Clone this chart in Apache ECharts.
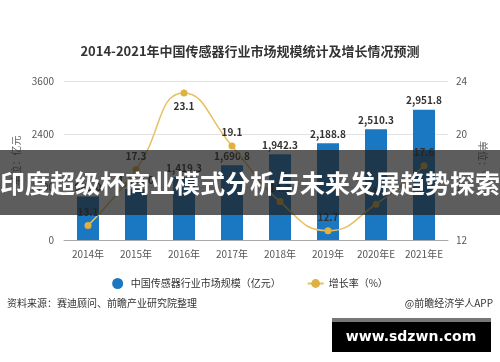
<!DOCTYPE html>
<html><head><meta charset="utf-8">
<script src="https://cdn.jsdelivr.net/npm/echarts@6/dist/echarts.min.js"></script>
<style>html,body{margin:0;padding:0;background:#fff}#c{width:500px;height:362px}</style>
</head><body><div id="c"></div>
<script>
const categories = ['2014年','2015年','2016年','2017年','2018年','2019年','2020年E','2021年E'];
const marketSize = [983.0, 1153.0, 1419.3, 1690.8, 1942.3, 2188.8, 2510.3, 2951.8];
const growthRate = [13.1, 17.3, 23.1, 19.1, 14.9, 12.7, 14.7, 17.6];
const leftTicks = {min: 0, max: 3600, interval: 1200};
const rightTicks = {min: 12, max: 24, interval: 4};
const titleText = '2014-2021年中国传感器行业市场规模统计及增长情况预测';
const sizeName = '中国传感器行业市场规模（亿元）';
const rateName = '增长率（%）';
const sourceText = '资料来源：赛迪顾问、前瞻产业研究院整理';
const brandText = '@前瞻经济学人APP';
const bannerText = '印度超级杯商业模式分析与未来发展趋势探索';
const siteText = 'www.sdzwn.com';

const CJK = '"Noto Sans CJK SC", "Noto Sans", sans-serif';
const chart = echarts.init(document.getElementById('c'), null, {renderer: 'canvas'});
const fmt = v => v.toLocaleString('en-US', {minimumFractionDigits: 1, maximumFractionDigits: 1});

chart.setOption({
  animation: false,
  textStyle: {fontFamily: CJK},
  title: {
    text: titleText, left: 'center', top: 40,
    textStyle: {fontSize: 13, fontWeight: 'bold', color: '#333', fontFamily: CJK}
  },
  legend: {
    top: 273, left: 'center', itemGap: 26, itemWidth: 16, itemHeight: 11,
    textStyle: {fontSize: 10, color: '#333', fontFamily: CJK},
    data: [{name: sizeName, icon: 'circle'}, {name: rateName}]
  },
  grid: {left: 64, right: 52, top: 81, bottom: 122},
  xAxis: {
    type: 'category', data: categories,
    axisLine: {lineStyle: {color: '#aaa'}},
    axisTick: {alignWithLabel: true, lineStyle: {color: '#aaa'}},
    axisLabel: {fontSize: 10, color: '#555', margin: 9, interval: 0}
  },
  yAxis: [
    {
      type: 'value', min: leftTicks.min, max: leftTicks.max, interval: leftTicks.interval,
      name: '单位：亿元', nameLocation: 'middle', nameGap: 42, nameRotate: 90,
      nameTextStyle: {fontSize: 10, color: '#666'},
      axisLabel: {fontSize: 10, color: '#555', margin: 10, formatter: v => String(v)},
      axisLine: {show: false}, axisTick: {show: false},
      splitLine: {lineStyle: {color: '#e3e3e3'}}
    },
    {
      type: 'value', min: rightTicks.min, max: rightTicks.max, interval: rightTicks.interval,
      name: '单位：%', nameLocation: 'middle', nameGap: 30, nameRotate: -90,
      nameTextStyle: {fontSize: 10, color: '#666'},
      axisLabel: {fontSize: 10, color: '#555', margin: 8},
      axisLine: {show: false}, axisTick: {show: false},
      splitLine: {show: false}
    }
  ],
  series: [
    {
      name: sizeName, type: 'bar', data: marketSize, barWidth: 22,
      itemStyle: {color: '#1a78c2'},
      label: {show: true, position: 'top', distance: 4, fontSize: 10, fontWeight: 'bold', color: '#333',
        formatter: p => fmt(p.value)}
    },
    {
      name: rateName, type: 'line', yAxisIndex: 1, smooth: 0.5,
      data: growthRate.map((v, i) => i === 2 ? {value: v, label: {position: 'bottom', distance: 5}} : v),
      symbol: 'circle', symbolSize: 7,
      lineStyle: {color: '#e6c061', width: 1.5},
      itemStyle: {color: '#e0b040'},
      label: {show: true, position: 'top', distance: 5, fontSize: 10, fontWeight: 'bold', color: '#333',
        formatter: p => p.value.toFixed(1)}
    }
  ],
  graphic: [
    {type: 'text', left: 7, top: 298, style: {text: sourceText, fill: '#333', font: '10px ' + CJK}},
    {type: 'text', right: 7, top: 298, style: {text: brandText, fill: '#333', font: '10px ' + CJK}},
    {type: 'rect', z: 100, shape: {x: 0, y: 150, width: 500, height: 65}, style: {fill: 'rgba(30,30,30,0.72)'}},
    {type: 'text', z: 101, x: 250, y: 183, style: {text: bannerText, fill: '#fff', font: 'bold 25px ' + CJK, textAlign: 'center', textVerticalAlign: 'middle'}},
    {type: 'rect', z: 100, shape: {x: 332, y: 318, width: 159, height: 34}, style: {fill: '#000'}},
    {type: 'rect', z: 101, shape: {x: 332, y: 318, width: 159, height: 4}, style: {fill: '#777'}},
    {type: 'text', z: 102, x: 411, y: 337, style: {text: siteText, fill: '#fff', font: 'bold 14px "DejaVu Sans", sans-serif', textAlign: 'center', textVerticalAlign: 'middle'}}
  ]
});
</script></body></html>
